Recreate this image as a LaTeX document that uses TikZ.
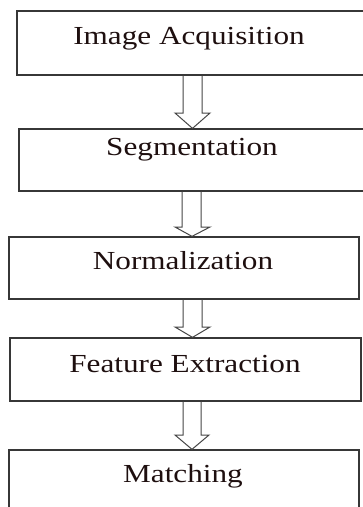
\documentclass[tikz,border=0pt]{standalone}
\usepackage{fontspec}
\usepackage{graphicx}
\setmainfont{Liberation Serif}
\tikzset{
  x=1pt, y=-1pt,
  stagebox/.style={draw={rgb,255:red,55;green,55;blue,55}, line width=1.3pt, rectangle, inner sep=0pt, fill=none},
  stagetext/.style={anchor=base, inner sep=0pt, text={rgb,255:red,30;green,15;blue,15}, font=\fontsize{26}{30}\selectfont},
  hollowarrow/.style={draw={rgb,255:red,70;green,70;blue,70}, line width=1pt, line join=miter}
}
\newcommand{\stretched}[1]{\scalebox{1.2}[1]{#1}}
\begin{document}
\begin{tikzpicture}
\useasboundingbox (0,0) rectangle (363,507);
\clip (0,0) rectangle (363,507);
\fill[white] (0,0) rectangle (363,507);
% boxes
\node[stagebox, minimum width=349pt, minimum height=64pt] (b1) at (191.5,43) {};
\node[stagebox, minimum width=347pt, minimum height=62pt] (b2) at (192.5,160) {};
\node[stagebox, minimum width=350pt, minimum height=62pt] (b3) at (184,268) {};
\node[stagebox, minimum width=351pt, minimum height=63pt] (b4) at (185.5,369.5) {};
\node[stagebox, minimum width=350pt, minimum height=62pt] (b5) at (184,481) {};
% texts
\node[stagetext] (t1) at (189,44) {\stretched{Image Acquisition}};
\node[stagetext] (t2) at (192,155) {\stretched{Segmentation}};
\node[stagetext] (t3) at (183,269) {\stretched{Normalization}};
\node[stagetext] (t4) at (185,372) {\stretched{Feature Extraction}};
\node[stagetext] (t5) at (183,482) {\stretched{Matching}};
% hollow arrows between boxes
\draw[hollowarrow] (183,0 |- b1.south) -- (183,113) -- (175,113) -- (192.5,0 |- b2.north) -- (210,113) -- (202,113) -- (202,0 |- b1.south);
\draw[hollowarrow] (182,0 |- b2.south) -- (182,227) -- (175,227) -- (192,0 |- b3.north) -- (210,227) -- (201,227) -- (201,0 |- b2.south);
\draw[hollowarrow] (183,0 |- b3.south) -- (183,327) -- (175,327) -- (192.5,0 |- b4.north) -- (210,327) -- (202,327) -- (202,0 |- b3.south);
\draw[hollowarrow] (183,0 |- b4.south) -- (183,435) -- (175,435) -- (192,0 |- b5.north) -- (209,435) -- (201,435) -- (201,0 |- b4.south);
\end{tikzpicture}
\end{document}
